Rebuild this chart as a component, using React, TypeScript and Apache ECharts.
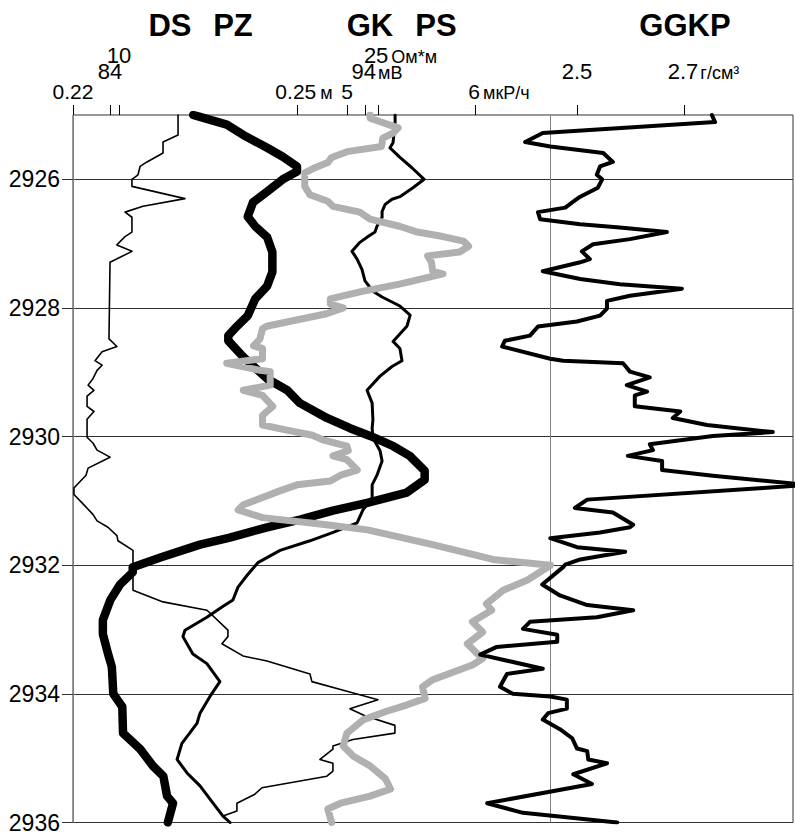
import React, { useEffect, useRef } from 'react';
import * as echarts from 'echarts';

const FONT = '"Liberation Sans", Arial, sans-serif';

// Depth axis (m)
const DEPTH_MIN = 2925;
const DEPTH_MAX = 2936;
const DEPTH_LABELS = [2926, 2928, 2930, 2932, 2934, 2936];

// Track titles
const TITLES = ['DS', 'PZ', 'GK', 'PS', 'GGKP'];

// Scale tick labels
const DS_TICKS = [0.22, 0.25];
const PS_TICKS = [84, 94];
const PZ_TICKS = [10, 25];
const GK_TICKS = [5, 6];
const GGKP_TICKS = [2.5, 2.7];

// Scale ranges (value at left / right edge of the track)
const DS_RANGE = [0.22, 0.31643];
const PS_RANGE = [82.549, 110.784];
const PZ_RANGE = [7.336, 49.035];
const GK_RANGE = [2.8594, 8.4844];
const GGKP_RANGE = [1.5579, 2.9037];
const GGKP_GRIDLINE = 2.451;

// Units
const UNITS = { DS: 'м', PS: 'мВ', PZ: 'Ом*м', GK: 'мкР/ч', GGKP: 'г/см³' };

// Curves: [depth, value]
const DS: [number, number][] = [
  [2925.00, 0.2361], [2925.03, 0.2370], [2925.15, 0.2406], [2925.31, 0.2428], [2925.51, 0.2460],
  [2925.65, 0.2481], [2925.80, 0.2500], [2925.88, 0.2500], [2926.00, 0.2481], [2926.19, 0.2460],
  [2926.36, 0.2441], [2926.58, 0.2434], [2926.73, 0.2444], [2926.90, 0.2460], [2927.13, 0.2467],
  [2927.44, 0.2467], [2927.66, 0.2460], [2927.86, 0.2444], [2928.12, 0.2434], [2928.28, 0.2420],
  [2928.43, 0.2408], [2928.51, 0.2408], [2928.76, 0.2428], [2929.10, 0.2460], [2929.28, 0.2487],
  [2929.48, 0.2504], [2929.71, 0.2540], [2929.87, 0.2571], [2929.99, 0.2598], [2930.15, 0.2629],
  [2930.30, 0.2651], [2930.53, 0.2671], [2930.67, 0.2671], [2930.87, 0.2647], [2931.03, 0.2594],
  [2931.15, 0.2548], [2931.29, 0.2504], [2931.41, 0.2460], [2931.57, 0.2410], [2931.68, 0.2370],
  [2931.88, 0.2317], [2932.03, 0.2280], [2932.11, 0.2280], [2932.30, 0.2263], [2932.54, 0.2250],
  [2932.85, 0.2240], [2933.07, 0.2240], [2933.38, 0.2247], [2933.58, 0.2252], [2934.00, 0.2254],
  [2934.20, 0.2266], [2934.61, 0.2267], [2934.86, 0.2290], [2935.12, 0.2307], [2935.28, 0.2321],
  [2935.59, 0.2326], [2935.70, 0.2334], [2936.00, 0.2327],
];

const PZ: [number, number][] = [
  [2925.00, 13.42], [2925.31, 13.42], [2925.42, 12.55], [2925.59, 12.55], [2925.73, 11.62],
  [2925.80, 11.22], [2925.93, 11.10], [2926.00, 10.75], [2926.11, 10.75], [2926.30, 13.82],
  [2926.42, 11.39], [2926.51, 10.35], [2926.59, 10.75], [2926.82, 10.75], [2926.89, 10.35],
  [2927.02, 9.88], [2927.12, 10.75], [2927.29, 9.48], [2928.48, 9.42], [2928.60, 9.88],
  [2928.68, 9.02], [2928.82, 8.61], [2928.89, 9.02], [2928.97, 8.73], [2929.10, 8.49],
  [2929.20, 8.21], [2929.28, 8.55], [2929.37, 8.15], [2929.53, 8.15], [2929.61, 8.55],
  [2929.73, 8.15], [2930.01, 8.15], [2930.10, 8.49], [2930.21, 8.73], [2930.32, 9.48],
  [2930.49, 8.21], [2930.60, 8.09], [2930.80, 7.39], [2930.90, 7.39], [2931.03, 7.86],
  [2931.21, 8.49], [2931.31, 8.73], [2931.41, 9.36], [2931.54, 9.88], [2931.62, 9.94],
  [2931.77, 10.81], [2932.39, 10.81], [2932.57, 12.55], [2932.70, 15.10], [2933.01, 16.31],
  [2933.11, 16.31], [2933.22, 15.96], [2933.41, 17.18], [2933.49, 18.57], [2933.69, 21.06],
  [2933.81, 21.17], [2933.96, 23.20], [2934.09, 25.00], [2934.23, 23.37], [2934.34, 24.24],
  [2934.49, 25.98], [2934.61, 25.98], [2934.71, 23.55], [2934.81, 22.39], [2934.86, 22.39],
  [2935.02, 21.64], [2935.08, 22.39], [2935.20, 22.39], [2935.28, 22.04], [2935.46, 18.28],
  [2935.56, 17.87], [2935.70, 16.83], [2935.82, 16.83], [2935.90, 16.02],
];

const PS: [number, number][] = [
  [2925.00, 95.18], [2925.11, 95.18], [2925.43, 95.10], [2925.51, 94.98], [2925.66, 95.37],
  [2925.82, 95.84], [2926.00, 96.32], [2926.13, 95.88], [2926.27, 95.37], [2926.31, 95.06],
  [2926.39, 94.79], [2926.50, 94.67], [2926.59, 94.67], [2926.73, 94.47], [2926.82, 94.39],
  [2926.89, 94.12], [2926.98, 93.80], [2927.12, 93.49], [2927.24, 93.69], [2927.40, 93.88],
  [2927.58, 94.00], [2927.74, 94.31], [2927.83, 94.67], [2927.97, 95.37], [2928.11, 95.77],
  [2928.28, 95.65], [2928.45, 95.26], [2928.52, 95.10], [2928.63, 95.37], [2928.82, 95.45],
  [2928.91, 95.06], [2929.06, 94.59], [2929.28, 94.08], [2929.48, 94.28], [2929.74, 94.31],
  [2929.87, 94.28], [2930.02, 94.31], [2930.22, 94.59], [2930.38, 94.67], [2930.60, 94.47],
  [2930.75, 94.28], [2930.95, 94.28], [2931.14, 93.92], [2931.34, 93.69], [2931.49, 92.75],
  [2931.62, 91.84], [2931.77, 90.67], [2931.96, 89.80], [2932.16, 89.37], [2932.34, 89.02],
  [2932.54, 88.82], [2932.65, 88.39], [2932.81, 87.80], [2933.01, 86.94], [2933.11, 86.86],
  [2933.38, 87.25], [2933.53, 87.80], [2933.81, 88.31], [2934.04, 87.92], [2934.30, 87.53],
  [2934.46, 87.41], [2934.77, 86.82], [2935.02, 86.63], [2935.23, 87.02], [2935.43, 87.53],
  [2935.70, 88.04], [2935.90, 88.43], [2936.00, 88.71],
];

const GK: [number, number][] = [
  [2925.00, 5.18], [2925.05, 5.18], [2925.20, 5.40], [2925.28, 5.36], [2925.36, 5.28],
  [2925.49, 5.27], [2925.57, 5.00], [2925.66, 4.88], [2925.74, 4.85], [2925.82, 4.75],
  [2925.90, 4.67], [2926.11, 4.67], [2926.24, 4.71], [2926.34, 4.85], [2926.42, 4.89],
  [2926.51, 5.10], [2926.62, 5.18], [2926.73, 5.41], [2926.82, 5.55], [2926.89, 5.75],
  [2926.96, 5.91], [2927.04, 5.95], [2927.13, 5.88], [2927.19, 5.63], [2927.29, 5.66],
  [2927.43, 5.67], [2927.47, 5.75], [2927.63, 5.41], [2927.75, 5.10], [2927.86, 4.87],
  [2927.94, 4.87], [2928.00, 4.97], [2928.09, 4.84], [2928.28, 4.38], [2928.32, 4.34],
  [2928.48, 4.32], [2928.59, 4.27], [2928.63, 4.34], [2928.79, 4.34], [2928.86, 4.06],
  [2928.97, 4.32], [2928.99, 4.40], [2929.20, 4.40], [2929.28, 4.19], [2929.36, 4.34],
  [2929.53, 4.42], [2929.67, 4.34], [2929.82, 4.34], [2929.90, 4.53], [2929.98, 4.73],
  [2930.05, 4.81], [2930.15, 5.00], [2930.22, 5.01], [2930.30, 4.89], [2930.36, 5.00],
  [2930.52, 5.08], [2930.60, 4.95], [2930.69, 4.87], [2930.75, 4.61], [2930.84, 4.48],
  [2931.06, 4.19], [2931.14, 4.15], [2931.26, 4.34], [2931.37, 4.84], [2931.45, 5.16],
  [2931.68, 5.67], [2931.91, 6.14], [2932.00, 6.59], [2932.23, 6.41], [2932.39, 6.22],
  [2932.60, 6.09], [2932.70, 6.13], [2932.88, 5.98], [2933.04, 6.06], [2933.22, 5.94],
  [2933.38, 6.02], [2933.45, 6.06], [2933.55, 5.98], [2933.78, 5.67], [2933.89, 5.59],
  [2934.07, 5.61], [2934.17, 5.47], [2934.27, 5.31], [2934.40, 5.13], [2934.61, 5.00],
  [2934.81, 4.97], [2934.97, 5.05], [2935.12, 5.18], [2935.32, 5.30], [2935.48, 5.34],
  [2935.59, 5.18], [2935.70, 4.95], [2935.79, 4.85], [2936.00, 4.88],
];

const GGKP: [number, number][] = [
  [2925.00, 2.752], [2925.11, 2.758], [2925.28, 2.436], [2925.42, 2.403], [2925.49, 2.450],
  [2925.59, 2.549], [2925.73, 2.567], [2925.80, 2.543], [2925.93, 2.537], [2926.00, 2.547],
  [2926.13, 2.539], [2926.27, 2.506], [2926.36, 2.491], [2926.44, 2.478], [2926.51, 2.427],
  [2926.62, 2.431], [2926.70, 2.506], [2926.75, 2.580], [2926.82, 2.668], [2926.93, 2.599],
  [2927.01, 2.530], [2927.12, 2.509], [2927.24, 2.524], [2927.29, 2.506], [2927.43, 2.436],
  [2927.55, 2.506], [2927.63, 2.580], [2927.70, 2.696], [2927.81, 2.599], [2927.89, 2.556],
  [2928.01, 2.556], [2928.12, 2.543], [2928.21, 2.500], [2928.29, 2.427], [2928.43, 2.412],
  [2928.51, 2.365], [2928.60, 2.360], [2928.79, 2.450], [2928.82, 2.474], [2928.86, 2.586],
  [2928.99, 2.599], [2929.08, 2.636], [2929.20, 2.593], [2929.30, 2.631], [2929.36, 2.608],
  [2929.53, 2.608], [2929.61, 2.693], [2929.71, 2.679], [2929.82, 2.743], [2929.93, 2.866],
  [2929.99, 2.754], [2930.12, 2.636], [2930.21, 2.642], [2930.30, 2.595], [2930.38, 2.659],
  [2930.52, 2.659], [2930.61, 2.754], [2930.75, 2.930], [2930.80, 2.848], [2930.98, 2.519],
  [2931.11, 2.496], [2931.18, 2.567], [2931.37, 2.605], [2931.41, 2.599], [2931.49, 2.543],
  [2931.58, 2.450], [2931.72, 2.500], [2931.79, 2.590], [2931.91, 2.506], [2931.99, 2.478],
  [2932.03, 2.474], [2932.30, 2.435], [2932.47, 2.468], [2932.62, 2.519], [2932.70, 2.605],
  [2932.81, 2.537], [2932.88, 2.412], [2932.99, 2.399], [2933.08, 2.463], [2933.19, 2.463],
  [2933.27, 2.350], [2933.39, 2.319], [2933.61, 2.436], [2933.69, 2.369], [2933.89, 2.356],
  [2934.00, 2.380], [2934.04, 2.450], [2934.09, 2.481], [2934.23, 2.481], [2934.30, 2.446],
  [2934.40, 2.436], [2934.55, 2.468], [2934.69, 2.491], [2934.85, 2.500], [2934.89, 2.519],
  [2935.02, 2.521], [2935.08, 2.556], [2935.25, 2.493], [2935.40, 2.528], [2935.70, 2.332],
  [2935.85, 2.399], [2936.00, 2.575],
];

const NUM_SIZE_ROW1 = 21;
const NUM_SIZE = 22;
const UNIT_SIZE = 18;

function topAxis(
  range: number[], ticks: number[], unit: string, unitWidth: number, gap: number,
  numSize: number, margin: number,
) {
  return {
    type: 'value',
    position: 'top',
    min: range[0],
    max: range[1],
    axisLine: { show: false },
    splitLine: { show: false },
    axisTick: {
      show: true, inside: false, length: 10, customValues: ticks,
      lineStyle: { color: '#000', width: 1 },
    },
    axisLabel: {
      show: true,
      customValues: ticks,
      margin,
      formatter: (v: number) =>
        v === ticks[1] ? `{n|${String(v)}}{u|${unit}}` : `{a|${String(v)}}`,
      rich: {
        a: { fontSize: numSize, fontFamily: FONT, color: '#000', verticalAlign: 'bottom', lineHeight: numSize - 4 },
        n: {
          fontSize: numSize, fontFamily: FONT, color: '#000', verticalAlign: 'bottom', lineHeight: numSize - 4,
          padding: [0, 0, 0, unitWidth + gap],
        },
        u: {
          fontSize: UNIT_SIZE, fontFamily: FONT, color: '#000', verticalAlign: 'bottom', lineHeight: numSize - 4,
          padding: [0, 0, 0, gap],
        },
      },
    },
  };
}

function curve(data: [number, number][], axis: number, color: string, width: number, z: number, extra: any = {}) {
  return {
    type: 'line',
    xAxisIndex: axis,
    yAxisIndex: 0,
    data: data.map(([d, v]) => [v, d]),
    showSymbol: false,
    symbol: 'none',
    clip: true,
    silent: true,
    z,
    lineStyle: { color, width, cap: 'round', join: 'round' },
    ...extra,
  };
}

export default function App() {
  const ref = useRef<HTMLDivElement>(null);

  useEffect(() => {
    if (!ref.current) return;
    const chart = echarts.init(ref.current, undefined, { renderer: 'svg' });

    const titleX = [170, 233, 370, 436, 685];
    const graphics = TITLES.map((t, i) => ({
      type: 'text',
      x: titleX[i],
      y: 25,
      style: {
        text: t,
        align: 'center',
        verticalAlign: 'middle',
        textAlign: 'center',
        textVerticalAlign: 'middle',
        fill: '#000',
        fontSize: 31,
        fontWeight: 'bold',
        fontFamily: FONT,
      },
    }));

    const option: any = {
      animation: false,
      backgroundColor: '#fff',
      grid: {
        left: 73, top: 115, right: 2, bottom: 7,
        show: true, borderColor: '#333', borderWidth: 1, backgroundColor: 'transparent',
      },
      xAxis: [
        topAxis(DS_RANGE, DS_TICKS, UNITS.DS, 10, 4, NUM_SIZE_ROW1, 13),
        topAxis(PS_RANGE, PS_TICKS, UNITS.PS, 22, 2, NUM_SIZE, 33),
        topAxis(PZ_RANGE, PZ_TICKS, UNITS.PZ, 42, 3, NUM_SIZE, 49),
        topAxis(GK_RANGE, GK_TICKS, UNITS.GK, 45, 3, NUM_SIZE_ROW1, 13),
        topAxis(GGKP_RANGE, GGKP_TICKS, UNITS.GGKP, 37, 2, NUM_SIZE, 33),
      ],
      yAxis: {
        type: 'value',
        inverse: true,
        min: DEPTH_MIN,
        max: DEPTH_MAX,
        axisLine: { show: true, lineStyle: { color: '#808080', width: 1 } },
        axisTick: { show: true, length: 11, customValues: DEPTH_LABELS, lineStyle: { color: '#333', width: 1 } },
        axisLabel: {
          show: true, customValues: DEPTH_LABELS, fontSize: 23, fontFamily: FONT, color: '#000', margin: 13,
          formatter: (v: number) => String(v),
        },
        splitLine: { show: true, lineStyle: { color: '#333', width: 1 } },
      },
      graphic: graphics,
      series: [
        curve(DS, 0, '#000', 8.5, 3),
        curve(PZ, 2, '#000', 1.6, 4),
        curve(PS, 1, '#000', 3, 5),
        curve(GK, 3, '#b0b0b0', 7, 6),
        curve(GGKP, 4, '#000', 4, 7, {
          markLine: {
            silent: true,
            z: 1,
            symbol: ['none', 'none'],
            label: { show: false },
            lineStyle: { color: '#808080', width: 1, type: 'solid' },
            data: [{ xAxis: GGKP_GRIDLINE }],
          },
        }),
      ],
    };

    chart.setOption(option);
    return () => chart.dispose();
  }, []);

  return (
    <div
      ref={ref}
      style={{ position: 'absolute', left: 0, top: 0, width: 795, height: 834 }}
    />
  );
}
